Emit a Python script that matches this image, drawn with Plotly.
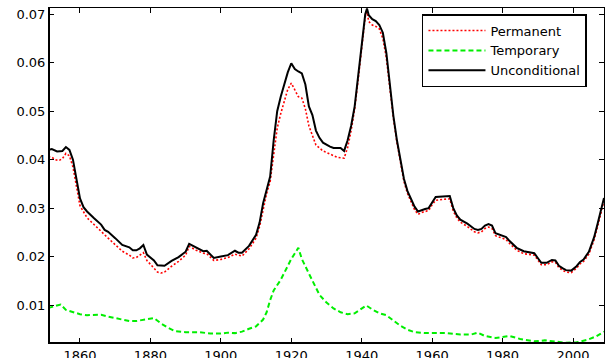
import plotly.graph_objects as go

unc_years = [1851, 1852, 1853.5, 1855, 1856, 1857, 1858, 1859, 1860, 1861, 1862, 1864, 1866, 1867, 1868,
             1870, 1872, 1874, 1875, 1876, 1877, 1878, 1879, 1881, 1882, 1884, 1886, 1888, 1890, 1891,
             1893, 1894, 1895, 1896, 1898, 1900, 1902, 1904, 1905, 1906, 1908, 1910, 1911, 1912, 1913,
             1914, 1915, 1916, 1917, 1918, 1919, 1920, 1921, 1922, 1923, 1924, 1925, 1926, 1927, 1928,
             1929, 1931, 1932, 1934, 1935, 1936, 1937, 1938, 1939, 1940, 1941, 1941.5, 1942, 1943, 1944,
             1945, 1946, 1947, 1948, 1949, 1950, 1951, 1952, 1953, 1954, 1955, 1956, 1957, 1958, 1959,
             1960, 1961, 1963, 1965, 1966, 1967, 1968, 1970, 1972, 1973, 1974, 1975, 1976, 1977, 1978,
             1980, 1981, 1982, 1984, 1986, 1988, 1989, 1990, 1991, 1992.5, 1994, 1995, 1996, 1997, 1998,
             1999.5, 2001, 2002, 2003, 2004.5, 2006, 2007, 2008, 2008.8]
unconditional = [0.0420, 0.0422, 0.0417, 0.0418, 0.0426, 0.0420, 0.0400, 0.0358, 0.0320, 0.0302, 0.0293,
                 0.0279, 0.0266, 0.0255, 0.0251, 0.0238, 0.0224, 0.0219, 0.0213, 0.0213, 0.0217, 0.0224,
                 0.0204, 0.0192, 0.0182, 0.0181, 0.0191, 0.0199, 0.0210, 0.0226, 0.0218, 0.0215, 0.0211,
                 0.0212, 0.0197, 0.0200, 0.0203, 0.0212, 0.0208, 0.0208, 0.0222, 0.0245, 0.0270, 0.0310,
                 0.0340, 0.0365, 0.0440, 0.0500, 0.0530, 0.0555, 0.0580, 0.0599, 0.0587, 0.0582, 0.0578,
                 0.0555, 0.0510, 0.0492, 0.0460, 0.0445, 0.0435, 0.0427, 0.0424, 0.0424, 0.0418, 0.0440,
                 0.0470, 0.0510, 0.0570, 0.0640, 0.0700, 0.0712, 0.0698, 0.0690, 0.0686, 0.0678, 0.0662,
                 0.0620, 0.0550, 0.0490, 0.0440, 0.0400, 0.0360, 0.0335, 0.0318, 0.0303, 0.0293, 0.0296,
                 0.0298, 0.0300, 0.0313, 0.0323, 0.0324, 0.0325, 0.0300, 0.0285, 0.0276, 0.0268, 0.0257,
                 0.0255, 0.0257, 0.0264, 0.0267, 0.0264, 0.0248, 0.0242, 0.0240, 0.0232, 0.0218, 0.0211,
                 0.0209, 0.0207, 0.0197, 0.0187, 0.0187, 0.0193, 0.0192, 0.0181, 0.0176, 0.0172, 0.0171,
                 0.0180, 0.0189, 0.0194, 0.0210, 0.0240, 0.0268, 0.0300, 0.0321]

perm_years = [1851, 1852, 1853, 1854, 1855, 1856, 1857, 1858, 1859, 1860, 1862, 1864, 1866, 1868, 1870,
              1872, 1874, 1875, 1876, 1877, 1878, 1879, 1881, 1882, 1883, 1884, 1886, 1888, 1890, 1891,
              1893, 1895, 1896, 1898, 1900, 1902, 1904, 1906, 1908, 1910, 1911, 1912, 1913, 1914, 1915,
              1916, 1917, 1918, 1919, 1920, 1921, 1922, 1923, 1924, 1925, 1926, 1927, 1929, 1931, 1933,
              1935, 1936, 1937, 1938, 1939, 1940, 1941, 1941.5, 1942, 1943, 1944, 1945, 1946, 1947, 1948,
              1949, 1950, 1951, 1952, 1953, 1954, 1955, 1956, 1957, 1958, 1959, 1960, 1961, 1963, 1965,
              1966, 1967, 1968, 1970, 1972, 1973, 1974, 1975, 1976, 1977, 1978, 1980, 1981, 1982, 1984,
              1986, 1988, 1989, 1990, 1991, 1992.5, 1994, 1995, 1996, 1997, 1998, 1999.5, 2001, 2002,
              2003, 2004.5, 2006, 2007, 2008, 2008.8]
permanent = [0.0406, 0.0405, 0.0400, 0.0398, 0.0402, 0.0413, 0.0408, 0.0385, 0.0345, 0.0305, 0.0280,
             0.0265, 0.0252, 0.0238, 0.0225, 0.0211, 0.0203, 0.0197, 0.0198, 0.0203, 0.0208, 0.0192,
             0.0177, 0.0168, 0.0166, 0.0168, 0.0180, 0.0190, 0.0203, 0.0221, 0.0213, 0.0207, 0.0206,
             0.0192, 0.0194, 0.0198, 0.0205, 0.0201, 0.0216, 0.0238, 0.0262, 0.0300, 0.0330, 0.0355,
             0.0415, 0.0465, 0.0495, 0.0520, 0.0545, 0.0558, 0.0545, 0.0530, 0.0527, 0.0505, 0.0470,
             0.0450, 0.0430, 0.0418, 0.0412, 0.0405, 0.0403, 0.0425, 0.0460, 0.0505, 0.0565, 0.0635,
             0.0695, 0.0705, 0.0685, 0.0678, 0.0675, 0.0670, 0.0650, 0.0610, 0.0545, 0.0485, 0.0435,
             0.0395, 0.0355, 0.0330, 0.0312, 0.0297, 0.0287, 0.0291, 0.0293, 0.0295, 0.0307, 0.0316,
             0.0318, 0.0319, 0.0294, 0.0280, 0.0271, 0.0262, 0.0251, 0.0249, 0.0251, 0.0258, 0.0261,
             0.0258, 0.0243, 0.0237, 0.0235, 0.0227, 0.0213, 0.0206, 0.0205, 0.0203, 0.0193, 0.0183,
             0.0183, 0.0189, 0.0188, 0.0177, 0.0172, 0.0168, 0.0167, 0.0176, 0.0185, 0.0190, 0.0205,
             0.0235, 0.0262, 0.0294, 0.0316]

temp_years = [1851, 1852, 1853, 1854.5, 1856, 1858, 1860, 1862, 1864, 1866, 1868, 1870, 1872, 1874, 1876,
              1878, 1880, 1881, 1883, 1885, 1887, 1890, 1894, 1897, 1900, 1902, 1904, 1906, 1908, 1910,
              1912, 1913, 1914, 1915, 1917, 1919, 1920, 1922, 1923, 1925, 1927, 1928, 1930, 1932, 1934,
              1936, 1938, 1939.5, 1941.3, 1943, 1945, 1947, 1949, 1951, 1953, 1955, 1958, 1964, 1968,
              1971, 1973, 1975, 1978, 1982, 1985, 1989, 1992, 1995, 1998, 2001, 2004, 2006.5, 2008.8]
temporary = [0.0094, 0.0096, 0.0099, 0.0101, 0.0090, 0.0085, 0.0081, 0.0079, 0.0079, 0.0080, 0.0076,
             0.0073, 0.0069, 0.0067, 0.0067, 0.0069, 0.0072, 0.0073, 0.0062, 0.0053, 0.0046, 0.0044,
             0.0044, 0.0041, 0.0041, 0.0043, 0.0042, 0.0045, 0.0051, 0.0056, 0.0070, 0.0085, 0.0110,
             0.0130, 0.0152, 0.0180, 0.0195, 0.0218, 0.0195, 0.0165, 0.0135, 0.0121, 0.0105, 0.0093,
             0.0085, 0.0081, 0.0083, 0.0090, 0.0099, 0.0091, 0.0083, 0.0079, 0.0068, 0.0057, 0.0049,
             0.0044, 0.0042, 0.0042, 0.0039, 0.0039, 0.0043, 0.0036, 0.0032, 0.0036, 0.0030, 0.0025,
             0.0027, 0.0025, 0.0022, 0.0023, 0.0028, 0.0035, 0.0045]

x_ticks = [1860, 1880, 1900, 1920, 1940, 1960, 1980, 2000]
y_ticks = [0.01, 0.02, 0.03, 0.04, 0.05, 0.06, 0.07]
y_tick_labels = ["0.01", "0.02", "0.03", "0.04", "0.05", "0.06", "0.07"]

FONT = "DejaVu Sans"

fig = go.Figure()
fig.add_trace(go.Scatter(x=perm_years, y=permanent, mode="lines", name="Permanent",
                         line=dict(color="#ff0000", width=1.6, dash="2px,2px")))
fig.add_trace(go.Scatter(x=temp_years, y=temporary, mode="lines", name="Temporary",
                         line=dict(color="#00ee00", width=2, dash="5px,3px")))
fig.add_trace(go.Scatter(x=unc_years, y=unconditional, mode="lines", name="Unconditional",
                         line=dict(color="black", width=2)))

axis_common = dict(showline=True, linecolor="black", linewidth=1, mirror="ticks",
                   ticks="inside", ticklen=5, tickwidth=1, tickcolor="black",
                   showgrid=False, zeroline=False,
                   tickfont=dict(family=FONT, size=13, color="black"))

fig.update_xaxes(range=[1851.2, 2008.8], tickvals=x_ticks, **axis_common)
fig.update_yaxes(range=[0.00216, 0.0713], tickvals=y_ticks, ticktext=y_tick_labels, **axis_common)

# thicker left and bottom frame lines
fig.add_shape(type="line", xref="paper", yref="paper", x0=0, x1=0, y0=0, y1=1,
              line=dict(color="black", width=2))
fig.add_shape(type="line", xref="paper", yref="paper", x0=0, x1=1, y0=0, y1=0,
              line=dict(color="black", width=2))

fig.update_layout(
    width=613, height=358,
    margin=dict(l=49, r=9, t=8, b=15, autoexpand=False),
    paper_bgcolor="white", plot_bgcolor="white",
    font=dict(family=FONT, size=13, color="black"),
    showlegend=True,
    legend=dict(x=0.672, y=0.982, xanchor="left", yanchor="top",
                bgcolor="white", bordercolor="black", borderwidth=1.5,
                font=dict(family=FONT, size=13, color="black"),
                itemwidth=57, tracegroupgap=0, traceorder="normal"),
)

fig.write_html("out.html", config={"displayModeBar": False},
               post_script="document.body.style.margin='0';")
